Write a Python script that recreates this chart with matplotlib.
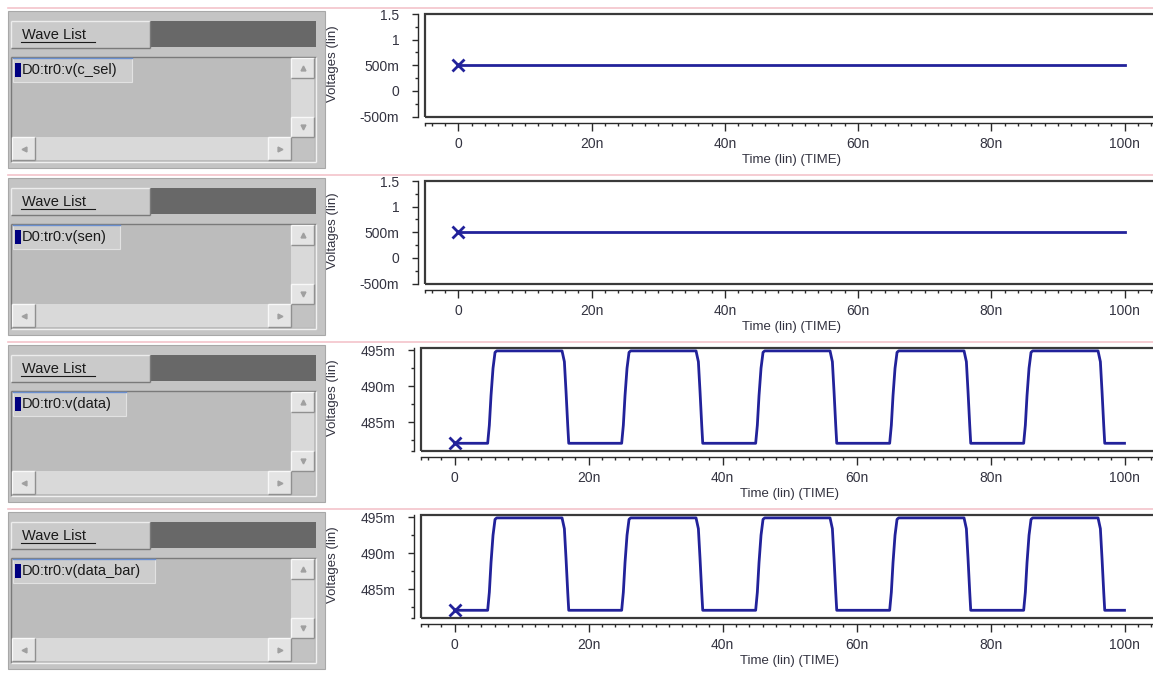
import matplotlib
matplotlib.use('Agg')
import matplotlib.pyplot as plt
from matplotlib.patches import Rectangle

plt.rcParams['font.family'] = ['Liberation Sans', 'DejaVu Sans']

# ---- values ----
wave_names = ['D0:tr0:v(c_sel)', 'D0:tr0:v(sen)', 'D0:tr0:v(data)', 'D0:tr0:v(data_bar)']

# time in ns
flat_t = [0, 100]
c_sel_v = [0.5, 0.5]   # V
sen_v = [0.5, 0.5]     # V

data_t = [0,
          4.95, 5.2, 5.45, 5.75, 6.05, 6.3, 16.05, 16.4, 16.65, 16.9, 17.05,
          24.95, 25.2, 25.45, 25.75, 26.05, 26.3, 36.05, 36.4, 36.65, 36.9, 37.05,
          44.95, 45.2, 45.45, 45.75, 46.05, 46.3, 56.05, 56.4, 56.65, 56.9, 57.05,
          64.95, 65.2, 65.45, 65.75, 66.05, 66.3, 76.05, 76.4, 76.65, 76.9, 77.05,
          84.95, 85.2, 85.45, 85.75, 86.05, 86.3, 96.05, 96.4, 96.65, 96.9, 97.05,
          100]
# mV
data_v = [482.1,
          482.1, 484.6, 488.7, 492.5, 494.7, 494.9, 494.9, 493.4, 489.2, 484.6, 482.1,
          482.1, 484.6, 488.7, 492.5, 494.7, 494.9, 494.9, 493.4, 489.2, 484.6, 482.1,
          482.1, 484.6, 488.7, 492.5, 494.7, 494.9, 494.9, 493.4, 489.2, 484.6, 482.1,
          482.1, 484.6, 488.7, 492.5, 494.7, 494.9, 494.9, 493.4, 489.2, 484.6, 482.1,
          482.1, 484.6, 488.7, 492.5, 494.7, 494.9, 494.9, 493.4, 489.2, 484.6, 482.1,
          482.1]
data_bar_t = data_t
data_bar_v = data_v    # looks identical to v(data) in the screenshot

x_ticks = [0, 20, 40, 60, 80, 100]
x_labels = ['0', '20n', '40n', '60n', '80n', '100n']
x_minor = [-5, -4, -2] + [t for t in range(2, 105, 2) if t % 20] + [105]

volt_ticks = [-0.5, 0, 0.5, 1, 1.5]
volt_labels = ['-500m', '0', '500m', '1', '1.5']
volt_minor = [-0.25, 0.25, 0.75, 1.25]
mv_ticks = [485, 490, 495]
mv_labels = ['485m', '490m', '495m']
mv_minor = [481.1, 482.5, 487.5, 492.5]

series = [
    (flat_t, c_sel_v, (-0.5, 1.5), volt_ticks, volt_labels, volt_minor),
    (flat_t, sen_v, (-0.5, 1.5), volt_ticks, volt_labels, volt_minor),
    (data_t, data_v, (481.1, 495.3), mv_ticks, mv_labels, mv_minor),
    (data_bar_t, data_bar_v, (481.1, 495.3), mv_ticks, mv_labels, mv_minor),
]

# ---- layout (pixels) ----
W, H = 1153, 673
panel_top = [8, 175, 342, 509]
plot_left = [425, 425, 421, 421]
item_right = [132, 120, 126, 155]
navy = '#22229a'
txt = '#333340'

fig = plt.figure(figsize=(W / 100, H / 100), dpi=100)
fig.patch.set_facecolor('white')
bg = fig.add_axes([0, 0, 1, 1])
bg.set_xlim(0, W)
bg.set_ylim(H, 0)
bg.axis('off')


def rect(x0, y0, x1, y1, fc, ec='none', lw=0.0, z=1):
    bg.add_patch(Rectangle((x0, y0), x1 - x0, y1 - y0, fc=fc, ec=ec, lw=lw, zorder=z))


def bevel(x0, y0, x1, y1, light, dark, z=3):
    bg.plot([x0, x1], [y0, y0], color=light, lw=1, zorder=z, solid_capstyle='butt')
    bg.plot([x0, x0], [y0, y1], color=light, lw=1, zorder=z, solid_capstyle='butt')
    bg.plot([x0, x1], [y1, y1], color=dark, lw=1, zorder=z, solid_capstyle='butt')
    bg.plot([x1, x1], [y0, y1], color=dark, lw=1, zorder=z, solid_capstyle='butt')


def px_box(x0, y0, x1, y1):
    return [x0 / W, 1 - y1 / H, (x1 - x0) / W, (y1 - y0) / H]


for i, (t, v, ylim, yt, yl, ym) in enumerate(series):
    y0 = panel_top[i]

    # separator line
    bg.plot([8, W], [y0, y0], color='#f4c4cb', lw=1.2, zorder=2)

    # --- wave list widget ---
    rect(8, y0 + 3, 325, y0 + 160, '#c4c4c4', ec='#a8a8a8', lw=0.8)
    rect(11, y0 + 13, 150, y0 + 40, '#cacaca')
    bevel(11, y0 + 13, 150, y0 + 40, '#ececec', '#7a7a7a')
    rect(150, y0 + 13, 316, y0 + 39, '#686868')
    bg.text(22, y0 + 27, 'Wave List', fontsize=10.5, color='#1a1a1a',
            va='center', ha='left', zorder=4)
    bg.plot([21, 95], [y0 + 34, y0 + 34], color='#1a1a1a', lw=0.8, zorder=4)

    rect(11, y0 + 49, 316, y0 + 154, '#bcbcbc')
    bevel(11, y0 + 49, 316, y0 + 154, '#7a7a7a', '#f0f0f0')
    # vertical scrollbar
    rect(291, y0 + 50, 314, y0 + 129, '#d9d9d9')
    for a, b, m in [(50, 70, '^'), (109, 129, 'v')]:
        rect(291, y0 + a, 314, y0 + b, '#e4e4e4')
        bevel(291, y0 + a, 314, y0 + b, '#f8f8f8', '#909090')
        bg.plot(302.5, y0 + (a + b) / 2, marker=m, ms=3.5, color='#a0a0a0', zorder=4)
    # horizontal scrollbar
    rect(12, y0 + 129, 291, y0 + 152, '#d9d9d9')
    for a, b, m in [(12, 35, '<'), (268, 291, '>')]:
        rect(a, y0 + 129, b, y0 + 152, '#e4e4e4')
        bevel(a, y0 + 129, b, y0 + 152, '#f8f8f8', '#909090')
        bg.plot((a + b) / 2, y0 + 140.5, marker=m, ms=3.5, color='#a0a0a0', zorder=4)
    rect(291, y0 + 129, 314, y0 + 152, '#c2c2c2')
    # selected item
    rect(13, y0 + 50, item_right[i], y0 + 74, '#cdcdcd', ec='#e2e2e2', lw=0.8, z=3)
    bg.plot([13, item_right[i]], [y0 + 50, y0 + 50], color='#6a8fd0', lw=1, zorder=4)
    rect(15, y0 + 55, 21, y0 + 69, '#000080', z=4)
    bg.text(22, y0 + 62, wave_names[i], fontsize=10.5, color='#1a1a1a',
            va='center', ha='left', zorder=5)

    # --- plot ---
    ax = fig.add_axes(px_box(plot_left[i], y0 + 6, 1158, y0 + 108.5))
    ax.set_facecolor('white')
    ax.plot(t, v, color=navy, lw=2.0)
    ax.plot([t[0]], [v[0]], marker='x', ms=8.5, mew=2, color=navy, clip_on=False)
    ax.set_xlim(-5, 105)
    ax.set_ylim(*ylim)

    for s in ('top', 'right'):
        ax.spines[s].set_visible(False)
    for s in ('left', 'bottom'):
        ax.spines[s].set_position(('outward', 5))
        ax.spines[s].set_color('#2a2a2a')
        ax.spines[s].set_linewidth(1)
    ax.add_patch(Rectangle((0, 0), 1, 1, transform=ax.transAxes, fill=False,
                           ec='#3a3a3a', lw=1.6, clip_on=False, zorder=5))

    ax.set_xticks(x_ticks)
    ax.set_xticklabels(x_labels)
    ax.set_xticks(x_minor, minor=True)
    ax.set_yticks(yt)
    ax.set_yticklabels(yl)
    ax.set_yticks(ym, minor=True)
    ax.tick_params(axis='x', which='major', length=6, width=1, pad=4,
                   labelsize=10, labelcolor=txt, color='#2a2a2a')
    ax.tick_params(axis='x', which='minor', length=2.2, width=1, color='#2a2a2a')
    ax.tick_params(axis='y', which='major', length=4.5, width=1, pad=9,
                   labelsize=10, labelcolor=txt, color='#2a2a2a')
    ax.tick_params(axis='y', which='minor', length=2.2, width=1, color='#2a2a2a')
    ax.set_xlabel('Time (lin) (TIME)', fontsize=9.5, color=txt, labelpad=2)

    fig.text(333 / W, 1 - (y0 + 56) / H, 'Voltages (lin)', rotation=90,
             ha='center', va='center', fontsize=9.5, color=txt)

fig.savefig('out.png', dpi=100)
